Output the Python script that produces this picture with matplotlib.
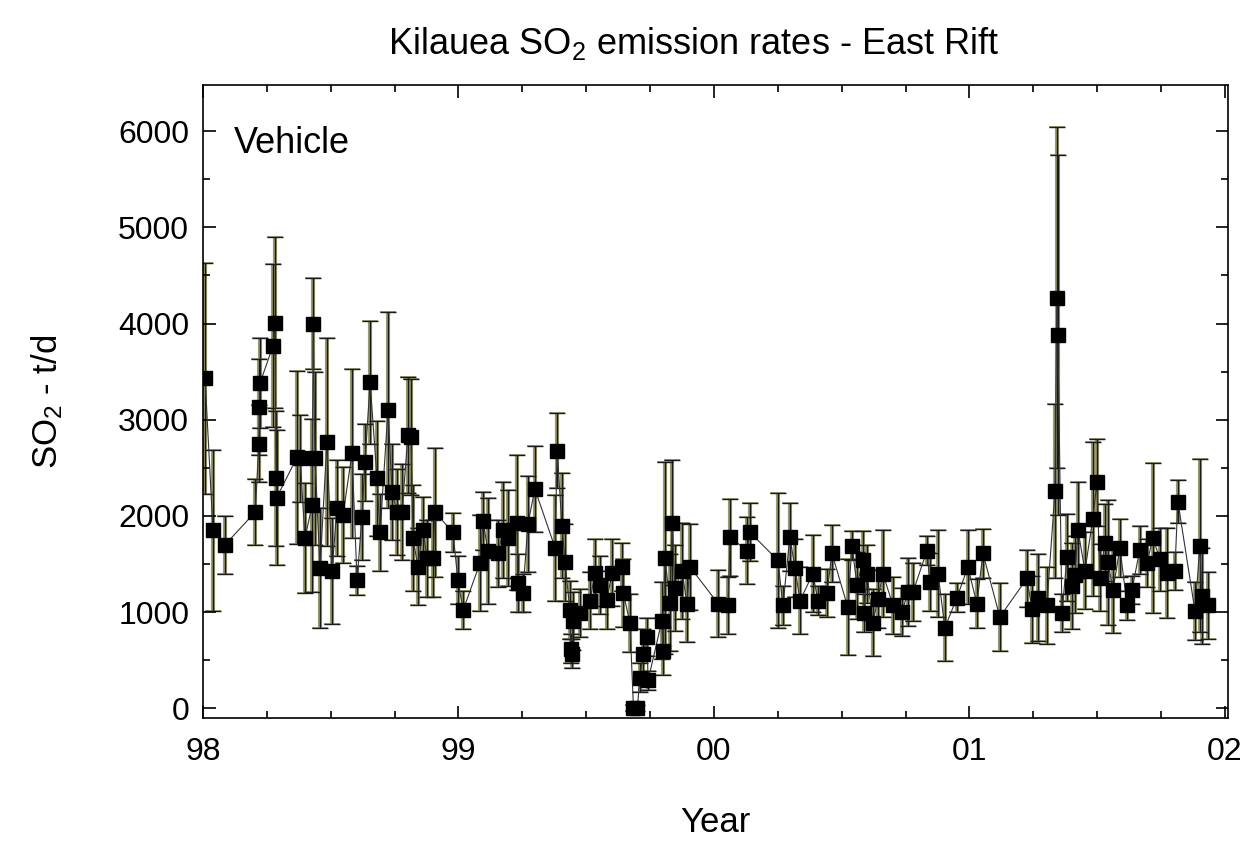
import matplotlib
matplotlib.use("Agg")
import matplotlib.pyplot as plt
from matplotlib.ticker import MultipleLocator
import numpy as np

plt.rcParams['font.family'] = ['Liberation Sans', 'DejaVu Sans']
plt.rcParams['mathtext.fontset'] = 'custom'
plt.rcParams['mathtext.rm'] = 'Liberation Sans'
plt.rcParams['mathtext.default'] = 'regular'

# years after 1998 (decimal), SO2 t/d, error
t_1998 = [0.008, 0.039, 0.086, 0.204, 0.219, 0.221, 0.223, 0.274, 0.282, 0.286, 0.288,
          0.368, 0.380, 0.399, 0.427, 0.431, 0.438, 0.458, 0.485, 0.505, 0.524, 0.548,
          0.583, 0.603, 0.622, 0.634, 0.654, 0.681, 0.693, 0.724, 0.740, 0.759, 0.779,
          0.802, 0.814, 0.822, 0.841, 0.861, 0.877, 0.900, 0.908]
v_1998 = [3430, 1850, 1700, 2040, 2750, 3130, 3380, 3770, 4010, 2390, 2190,
          2610, 2600, 1770, 2110, 4000, 2600, 1460, 2770, 1430, 2080, 2010,
          2650, 1330, 1990, 2560, 3390, 2390, 1830, 3100, 2250, 2040, 2040,
          2840, 2820, 1770, 1470, 1850, 1560, 1560, 2040]
e_1998 = [1200, 840, 300, 340, 400, 500, 470, 850, 890, 700, 700,
          900, 450, 570, 900, 470, 900, 620, 1080, 550, 500, 500,
          880, 150, 450, 400, 640, 600, 400, 1020, 500, 450, 500,
          600, 600, 550, 400, 350, 400, 400, 670]

t_1999 = [0.978, 0.998, 1.018, 1.084, 1.096, 1.115, 1.155, 1.174, 1.194, 1.229, 1.233,
          1.252, 1.272, 1.299, 1.378, 1.386, 1.405, 1.417, 1.436, 1.440, 1.444, 1.448,
          1.476, 1.515, 1.534, 1.554, 1.581, 1.601, 1.640, 1.645, 1.671, 1.685, 1.700,
          1.710, 1.722, 1.738, 1.742, 1.796, 1.800, 1.808, 1.828, 1.836, 1.847, 1.875,
          1.894, 1.906]
v_1999 = [1830, 1330, 1020, 1510, 1950, 1640, 1610, 1850, 1770, 1930, 1300,
          1200, 1920, 2280, 1670, 2680, 1900, 1520, 1020, 620, 570, 910,
          990, 1120, 1410, 1280, 1130, 1410, 1470, 1200, 890, 0, 0,
          320, 570, 740, 290, 910, 600, 1560, 1100, 1930, 1250, 1430,
          1090, 1470]
e_1999 = [200, 250, 200, 500, 300, 550, 350, 500, 500, 700, 300,
          200, 500, 450, 550, 390, 550, 400, 300, 150, 150, 300,
          250, 300, 350, 300, 300, 350, 250, 350, 300, 30, 30,
          150, 250, 200, 100, 400, 250, 1000, 500, 650, 450, 500,
          400, 450]

t_2000 = [2.016, 2.055, 2.063, 2.129, 2.141, 2.250, 2.270, 2.297, 2.317, 2.337, 2.387,
          2.407, 2.442, 2.462, 2.524, 2.540, 2.560, 2.583, 2.588, 2.599, 2.622, 2.642,
          2.661, 2.701, 2.736, 2.759, 2.779, 2.834, 2.845, 2.877, 2.904, 2.951, 2.994,
          3.029, 3.053, 3.119]
v_2000 = [1090, 1070, 1780, 1640, 1830, 1540, 1070, 1780, 1460, 1120, 1400,
          1120, 1200, 1610, 1050, 1690, 1280, 1540, 990, 1400, 890, 1140,
          1400, 1070, 1000, 1210, 1210, 1640, 1310, 1400, 840, 1150, 1470,
          1090, 1610, 950]
e_2000 = [350, 300, 400, 350, 300, 700, 200, 350, 300, 350, 400,
          150, 250, 300, 500, 150, 350, 300, 200, 300, 350, 300,
          450, 300, 250, 350, 300, 150, 300, 450, 350, 150, 380,
          250, 250, 350]

t_2001 = [3.225, 3.245, 3.268, 3.303, 3.335, 3.342, 3.346, 3.362, 3.382, 3.401, 3.413,
          3.425, 3.452, 3.483, 3.499, 3.511, 3.530, 3.542, 3.562, 3.589, 3.617, 3.636,
          3.667, 3.695, 3.718, 3.746, 3.773, 3.804, 3.816, 3.883, 3.902, 3.910, 3.933]
v_2001 = [1350, 1030, 1150, 1070, 2260, 4270, 3880, 990, 1570, 1270, 1390,
          1850, 1430, 1970, 2350, 1360, 1720, 1520, 1230, 1670, 1070, 1230,
          1650, 1510, 1770, 1550, 1410, 1430, 2150, 1010, 1690, 1170, 1070]
e_2001 = [300, 350, 450, 400, 900, 1770, 1870, 200, 450, 450, 400,
          500, 400, 800, 450, 350, 400, 650, 450, 300, 150, 150,
          250, 250, 780, 330, 470, 200, 220, 300, 900, 500, 350]

year = 1998 + np.array(t_1998 + t_1999 + t_2000 + t_2001)
so2 = np.array(v_1998 + v_1999 + v_2000 + v_2001)
err = np.array(e_1998 + e_1999 + e_2000 + e_2001)

year_ticks = [1998, 1999, 2000, 2001, 2002]
year_labels = ['98', '99', '00', '01', '02']

fig = plt.figure(figsize=(12.41, 8.44), dpi=100)
ax = fig.add_axes([0.1636, 0.1493, 0.8259, 0.75])

# connecting line
ax.plot(year, so2, color='#333333', linewidth=0.8, zorder=2)

# error bars: khaki body with a thin dark core
ax.errorbar(year, so2, yerr=err, fmt='none', ecolor='#9b9b72', elinewidth=3.0,
            capsize=6, capthick=1.3, zorder=1)
ax.errorbar(year, so2, yerr=err, fmt='none', ecolor='#1a1a1a', elinewidth=1.0,
            capsize=6, capthick=1.0, zorder=1.5)

ax.plot(year, so2, linestyle='none', marker='s', markersize=10,
        color='black', zorder=3)

ax.set_xlim(1998, 2002.012)
ax.set_ylim(-100, 6480)

ax.set_xticks(year_ticks)
ax.set_xticklabels(year_labels)
ax.xaxis.set_minor_locator(MultipleLocator(0.25))
ax.yaxis.set_major_locator(MultipleLocator(1000))
ax.yaxis.set_minor_locator(MultipleLocator(500))

ax.tick_params(which='both', direction='in', top=True, right=True, labelsize=23,
               width=1.2)
ax.tick_params(which='major', length=9)
ax.tick_params(which='minor', length=5)
ax.tick_params(axis='x', which='major', pad=14)
ax.tick_params(axis='y', which='major', pad=10)
for s in ax.spines.values():
    s.set_linewidth(1.2)

ax.set_xlabel('Year', fontsize=25, labelpad=28)
ax.set_ylabel(r'SO$_2$ - t/d', fontsize=25, labelpad=38)
ax.set_title(r'Kilauea SO$_2$ emission rates - East Rift', fontsize=26, pad=22,
             x=0.479)
ax.text(0.03, 0.908, 'Vehicle', transform=ax.transAxes, fontsize=26,
        va='center', ha='left')

fig.savefig('out.png', dpi=100)
